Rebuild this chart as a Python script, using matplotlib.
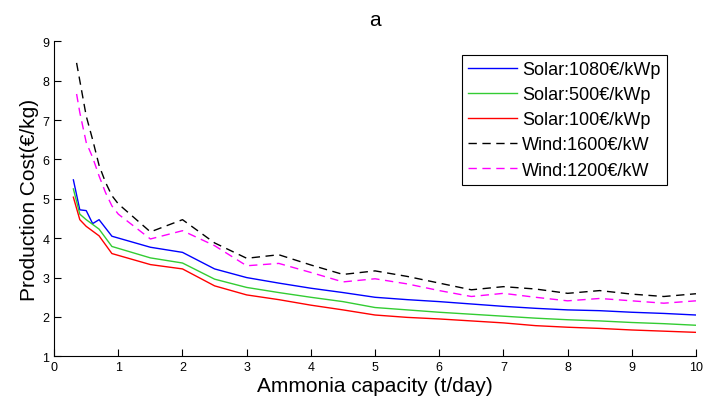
import matplotlib.pyplot as plt

plt.rcParams['font.family'] = ['Liberation Sans', 'DejaVu Sans']

# capacity points (t/day)
solar_x = [0.3, 0.4, 0.5, 0.6, 0.7, 0.9, 1.5, 2, 2.5, 3, 3.5, 4, 4.5, 5,
           5.5, 6, 6.5, 7, 7.5, 8, 8.5, 9, 9.5, 10]
wind_x = [0.35, 0.4, 0.5, 0.6, 0.7, 0.8, 0.9, 1, 1.5, 2, 2.5, 3, 3.5, 4, 4.5,
          5, 5.5, 6, 6.5, 7, 7.5, 8, 8.5, 9, 9.5, 10]

# production cost (EUR/kg)
solar_1080 = [5.48, 4.72, 4.70, 4.37, 4.47, 4.05, 3.77, 3.64, 3.22, 3.00, 2.86,
              2.73, 2.62, 2.50, 2.44, 2.39, 2.33, 2.27, 2.22, 2.18, 2.16, 2.12,
              2.09, 2.05]
solar_500 = [5.25, 4.61, 4.47, 4.35, 4.23, 3.79, 3.50, 3.37, 2.96, 2.75, 2.62,
             2.50, 2.39, 2.24, 2.18, 2.12, 2.07, 2.02, 1.97, 1.93, 1.90, 1.86,
             1.83, 1.79]
solar_100 = [5.04, 4.47, 4.30, 4.18, 4.06, 3.61, 3.33, 3.22, 2.79, 2.56, 2.44,
             2.30, 2.18, 2.05, 1.99, 1.95, 1.90, 1.85, 1.78, 1.74, 1.71, 1.67,
             1.64, 1.61]
wind_1600 = [8.45, 8.00, 7.10, 6.50, 5.85, 5.42, 5.08, 4.87, 4.16, 4.47, 3.88,
             3.49, 3.58, 3.32, 3.08, 3.17, 3.03, 2.86, 2.69, 2.77, 2.71, 2.60,
             2.67, 2.58, 2.52, 2.59]
wind_1200 = [7.66, 7.19, 6.43, 6.05, 5.58, 5.16, 4.82, 4.61, 3.98, 4.19, 3.81,
             3.30, 3.36, 3.13, 2.89, 2.97, 2.84, 2.67, 2.52, 2.60, 2.50, 2.41,
             2.47, 2.41, 2.35, 2.41]

fig = plt.figure(figsize=(7.03, 4.02), dpi=100)
ax = fig.add_axes([0.077, 0.111, 0.913, 0.784])

ax.plot(solar_x, solar_1080, color='#0000ff', lw=1, label='Solar:1080€/kWp')
ax.plot(solar_x, solar_500, color='#33cc33', lw=1, label='Solar:500€/kWp')
ax.plot(solar_x, solar_100, color='#ff0000', lw=1, label='Solar:100€/kWp')
ax.plot(wind_x, wind_1600, color='#000000', lw=1, ls=(0, (6, 4)), label='Wind:1600€/kW')
ax.plot(wind_x, wind_1200, color='#ff00ff', lw=1, ls=(0, (6, 4)), label='Wind:1200€/kW')

ax.set_xlim(0, 10)
ax.set_ylim(1, 9)
ax.set_xticks(range(0, 11))
ax.set_yticks(range(1, 10))
ax.spines['top'].set_visible(False)
ax.spines['right'].set_visible(False)
ax.tick_params(direction='in', labelsize=9, length=5)

ax.set_xlabel('Ammonia capacity (t/day)', fontsize=15, labelpad=2)
ax.set_ylabel('Production Cost(€/kg)', fontsize=15, labelpad=2)
ax.set_title('a', fontsize=15, pad=12)

leg = ax.legend(loc='upper right', bbox_to_anchor=(0.955, 0.957), fontsize=13,
                fancybox=False, framealpha=1, edgecolor='black',
                handlelength=2.7, handletextpad=0.3, labelspacing=0.45,
                borderpad=0.35, borderaxespad=0)
leg.get_frame().set_linewidth(0.8)

plt.savefig('out.png', dpi=100)
